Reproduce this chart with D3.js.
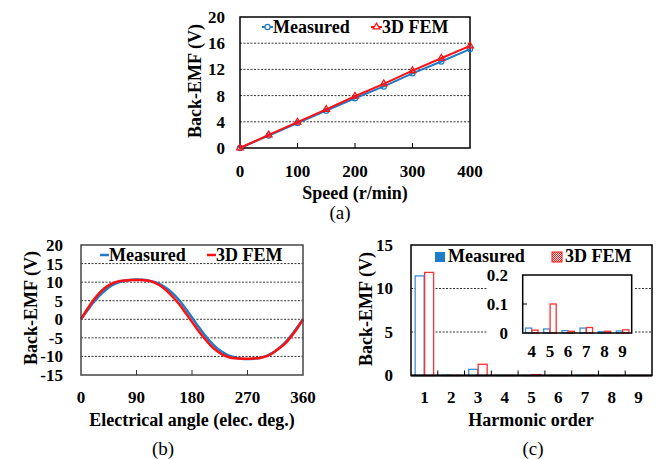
<!DOCTYPE html>
<html>
<head>
<meta charset="utf-8">
<script src="https://cdn.jsdelivr.net/npm/d3@7"></script>
<style>
  body { margin: 0; background: #fff; }
  svg text { font-family: "Liberation Serif", "Times New Roman", serif; font-weight: bold; fill: #000; }
</style>
</head>
<body>
<div id="draw-area"></div>
<script>
// (a) back-EMF vs speed
const speeds = [0, 50, 100, 150, 200, 250, 300, 350, 400];
const speedMeasured = [0, 1.9, 3.8, 5.7, 7.6, 9.4, 11.4, 13.2, 15.1];
const speedFem = [0, 2.0, 3.95, 5.9, 7.9, 9.8, 11.8, 13.7, 15.6];
const speedTicks = [0, 100, 200, 300, 400];
const emfTicksA = [0, 4, 8, 12, 16, 20];

// (b) waveform
const angles = [0, 10, 20, 30, 40, 50, 60, 70, 80, 90, 100, 110, 120, 130, 140, 150, 160, 170, 180,
  190, 200, 210, 220, 230, 240, 250, 260, 270, 280, 290, 300, 310, 320, 330, 340, 350, 360];
const waveMeasured = [0, 2.3, 4.5, 6.4, 7.9, 9.1, 9.9, 10.4, 10.6, 10.7, 10.65, 10.4, 10.0, 9.3, 8.2, 6.8, 5.0, 2.8, 0.5,
  -1.9, -4.1, -6.1, -7.7, -8.9, -9.8, -10.3, -10.6, -10.7, -10.6, -10.4, -9.9, -9.1, -7.9, -6.4, -4.5, -2.3, 0];
const waveFem = [0, 2.7, 5.1, 7.1, 8.6, 9.6, 10.2, 10.45, 10.55, 10.6, 10.55, 10.35, 9.8, 8.9, 7.5, 5.8, 3.9, 1.6, -0.7,
  -3.0, -5.1, -7.0, -8.5, -9.6, -10.2, -10.5, -10.6, -10.65, -10.55, -10.4, -10.0, -9.2, -8.0, -6.7, -4.8, -2.6, 0];
const angleTicks = [0, 90, 180, 270, 360];
const emfTicksB = [-15, -10, -5, 0, 5, 10, 15, 20];

// (c) harmonics
const harmonics = [1, 2, 3, 4, 5, 6, 7, 8, 9];
const harmMeasured = [11.45, 0.03, 0.71, 0.017, 0.014, 0.008, 0.017, 0.005, 0.007];
const harmFem = [11.85, 0.005, 1.29, 0.01, 0.1, 0.006, 0.019, 0.006, 0.011];
const emfTicksC = [0, 5, 10, 15];
const insetHarmonics = [4, 5, 6, 7, 8, 9];
const insetTicks = [0, 0.1, 0.2];

const blue = '#1f7bc8', red = '#ff1010';
const barBlue = '#3d8fd6', barRed = '#ff3030';

const svg = d3.select('#draw-area').append('svg').attr('width', 662).attr('height', 459);

const defs = svg.append('defs');
const pat = defs.append('pattern').attr('id', 'checker').attr('width', 2).attr('height', 2)
  .attr('patternUnits', 'userSpaceOnUse');
pat.append('rect').attr('width', 2).attr('height', 2).attr('fill', '#fff');
pat.append('rect').attr('width', 1).attr('height', 1).attr('fill', red);
pat.append('rect').attr('x', 1).attr('y', 1).attr('width', 1).attr('height', 1).attr('fill', red);

function grid(g, y, vals, x0, x1) {
  g.selectAll(null).data(vals).enter().append('line')
    .attr('x1', x0).attr('x2', x1).attr('y1', d => y(d)).attr('y2', d => y(d))
    .attr('stroke', '#333').attr('stroke-width', 1).attr('stroke-dasharray', '2,1.5');
}
function frame(g, x0, y0, x1, y1, color, w) {
  g.append('rect').attr('x', x0).attr('y', y0).attr('width', x1 - x0).attr('height', y1 - y0)
    .attr('fill', 'none').attr('stroke', color).attr('stroke-width', w);
}
function yLabels(g, y, vals, xr, fmt) {
  g.selectAll(null).data(vals).enter().append('text')
    .attr('x', xr).attr('y', d => y(d)).attr('dy', '0.35em').attr('text-anchor', 'end')
    .attr('font-size', 17).text(fmt || (d => d));
}
function xLabels(g, x, vals, yb) {
  g.selectAll(null).data(vals).enter().append('text')
    .attr('x', d => x(d)).attr('y', yb).attr('text-anchor', 'middle')
    .attr('font-size', 17).text(d => d);
}
function yTitle(g, xb, yc) {
  g.append('text').attr('transform', `translate(${xb},${yc}) rotate(-90)`)
    .attr('text-anchor', 'middle').attr('font-size', 18).text('Back-EMF (V)');
}
function caption(txt, xc, yb) {
  svg.append('text').attr('x', xc).attr('y', yb).attr('text-anchor', 'middle')
    .attr('font-size', 19).style('font-weight', 'normal').text(txt);
}

// ---------- (a) ----------
(function () {
  const g = svg.append('g');
  const x = d3.scaleLinear().domain([0, 400]).range([240, 470]);
  const y = d3.scaleLinear().domain([0, 20]).range([148, 17]);
  grid(g, y, [4, 8, 12, 16], 240, 470);
  g.selectAll(null).data([100, 200, 300]).enter().append('line')
    .attr('x1', d => x(d)).attr('x2', d => x(d)).attr('y1', 148).attr('y2', 143)
    .attr('stroke', '#000').attr('stroke-width', 1);
  frame(g, 240, 17, 470, 148, '#000', 1.5);

  const line = d3.line().x((d, i) => x(speeds[i])).y(d => y(d));
  g.append('path').attr('d', line(speedMeasured)).attr('fill', 'none').attr('stroke', blue).attr('stroke-width', 2);
  g.selectAll(null).data(speedMeasured).enter().append('circle')
    .attr('cx', (d, i) => x(speeds[i])).attr('cy', d => y(d)).attr('r', 2.6)
    .attr('fill', 'none').attr('stroke', blue).attr('stroke-width', 1.2);
  g.append('path').attr('d', line(speedFem)).attr('fill', 'none').attr('stroke', red).attr('stroke-width', 2);
  const tri = d3.symbol().type(d3.symbolTriangle).size(20);
  g.selectAll(null).data(speedFem).enter().append('path')
    .attr('d', tri).attr('transform', (d, i) => `translate(${x(speeds[i])},${y(d)})`)
    .attr('fill', 'none').attr('stroke', red).attr('stroke-width', 1.2);

  yLabels(g, y, emfTicksA, 225);
  xLabels(g, x, speedTicks, 177);
  g.append('text').attr('x', 355).attr('y', 199).attr('text-anchor', 'middle').attr('font-size', 18).text('Speed (r/min)');
  yTitle(g, 201, 81);

  // legend
  g.append('line').attr('x1', 262).attr('x2', 273).attr('y1', 27).attr('y2', 27).attr('stroke', blue).attr('stroke-width', 2);
  g.append('circle').attr('cx', 267.5).attr('cy', 27).attr('r', 2.6).attr('fill', '#fff').attr('stroke', blue).attr('stroke-width', 1.2);
  g.append('text').attr('x', 273).attr('y', 33).attr('font-size', 18).text('Measured');
  g.append('line').attr('x1', 371).attr('x2', 382).attr('y1', 27).attr('y2', 27).attr('stroke', red).attr('stroke-width', 2);
  g.append('path').attr('d', tri).attr('transform', 'translate(376.5,27)').attr('fill', '#fff').attr('stroke', red).attr('stroke-width', 1.2);
  g.append('text').attr('x', 382).attr('y', 33).attr('font-size', 18).text('3D FEM');
})();
caption('(a)', 340, 219);

// ---------- (b) ----------
(function () {
  const g = svg.append('g');
  const x = d3.scaleLinear().domain([0, 360]).range([81, 303]);
  const y = d3.scaleLinear().domain([-15, 20]).range([375, 245]);
  grid(g, y, [-10, -5, 0, 5, 10, 15], 81, 303);
  g.selectAll(null).data([90, 180, 270]).enter().append('line')
    .attr('x1', d => x(d)).attr('x2', d => x(d)).attr('y1', 375).attr('y2', 370)
    .attr('stroke', '#333').attr('stroke-width', 1);

  const line = d3.line().x((d, i) => x(angles[i])).y(d => y(d)).curve(d3.curveCatmullRom);
  g.append('path').attr('d', line(waveMeasured)).attr('fill', 'none').attr('stroke', blue).attr('stroke-width', 2.5);
  g.append('path').attr('d', line(waveFem)).attr('fill', 'none').attr('stroke', red).attr('stroke-width', 2.5);
  frame(g, 81, 245, 303, 375, '#444', 1.5);

  yLabels(g, y, emfTicksB, 63);
  xLabels(g, x, angleTicks, 403);
  g.append('text').attr('x', 192).attr('y', 426).attr('text-anchor', 'middle').attr('font-size', 18)
    .text('Electrical angle (elec. deg.)');
  yTitle(g, 37, 308);

  g.append('line').attr('x1', 100).attr('x2', 109).attr('y1', 255).attr('y2', 255).attr('stroke', blue).attr('stroke-width', 2.5);
  g.append('text').attr('x', 109).attr('y', 261).attr('font-size', 18).text('Measured');
  g.append('line').attr('x1', 207).attr('x2', 216).attr('y1', 255).attr('y2', 255).attr('stroke', red).attr('stroke-width', 2.5);
  g.append('text').attr('x', 216).attr('y', 261).attr('font-size', 18).text('3D FEM');
})();
caption('(b)', 163, 455);

// ---------- (c) ----------
(function () {
  const g = svg.append('g');
  const x = d3.scaleBand().domain(harmonics).range([411, 652]);
  const y = d3.scaleLinear().domain([0, 15]).range([375.5, 245]);
  const sub = d3.scaleBand().domain(['m', 'f']).range([0, x.bandwidth()]).paddingInner(0.05).paddingOuter(0.44);
  grid(g, y, [5, 10], 411, 652);

  const bars = g.selectAll('g.harm').data(harmonics).enter().append('g').attr('class', 'harm')
    .attr('transform', d => `translate(${x(d)},0)`);
  bars.append('rect').attr('x', sub('m')).attr('width', sub.bandwidth())
    .attr('y', (d, i) => y(harmMeasured[i])).attr('height', (d, i) => y(0) - y(harmMeasured[i]))
    .attr('fill', '#fff').attr('stroke', barBlue).attr('stroke-width', 1.3);
  bars.append('rect').attr('x', sub('f')).attr('width', sub.bandwidth())
    .attr('y', (d, i) => y(harmFem[i])).attr('height', (d, i) => y(0) - y(harmFem[i]))
    .attr('fill', '#fff').attr('stroke', barRed).attr('stroke-width', 1.3);

  g.selectAll(null).data(harmonics.slice(1)).enter().append('line')
    .attr('x1', d => x(d)).attr('x2', d => x(d)).attr('y1', 375.5).attr('y2', 370.5)
    .attr('stroke', '#000').attr('stroke-width', 1);
  frame(g, 411, 245, 652, 375.5, '#000', 1.5);
  g.append('line').attr('x1', 411).attr('x2', 652).attr('y1', 375.5).attr('y2', 375.5).attr('stroke', '#000').attr('stroke-width', 2);

  yLabels(g, y, emfTicksC, 393);
  xLabels(g, d => x(d) + x.bandwidth() / 2, harmonics, 403);
  g.append('text').attr('x', 531).attr('y', 426).attr('text-anchor', 'middle').attr('font-size', 18).text('Harmonic order');
  yTitle(g, 372, 309);

  // legend
  g.append('rect').attr('x', 435).attr('y', 252).attr('width', 10).attr('height', 10).attr('fill', blue);
  g.append('text').attr('x', 448).attr('y', 262).attr('font-size', 18).text('Measured');
  g.append('rect').attr('x', 552).attr('y', 252).attr('width', 10).attr('height', 10)
    .attr('fill', 'url(#checker)').attr('stroke', red).attr('stroke-width', 1);
  g.append('text').attr('x', 565).attr('y', 262).attr('font-size', 18).text('3D FEM');

  // inset
  const ig = g.append('g');
  ig.append('rect').attr('x', 487).attr('y', 266).attr('width', 148).attr('height', 96).attr('fill', '#fff');
  const xi = d3.scaleBand().domain(insetHarmonics).range([522.7, 631.7]);
  const yi = d3.scaleLinear().domain([0, 0.2]).range([333, 275]);
  const subi = d3.scaleBand().domain(['m', 'f']).range([0, xi.bandwidth()]).paddingInner(0.05).paddingOuter(0.44);
  const ib = ig.selectAll('g.ins').data(insetHarmonics).enter().append('g').attr('class', 'ins')
    .attr('transform', d => `translate(${xi(d)},0)`);
  ib.append('rect').attr('x', subi('m')).attr('width', subi.bandwidth())
    .attr('y', d => yi(harmMeasured[harmonics.indexOf(d)]))
    .attr('height', d => yi(0) - yi(harmMeasured[harmonics.indexOf(d)]))
    .attr('fill', '#fff').attr('stroke', barBlue).attr('stroke-width', 1.3);
  ib.append('rect').attr('x', subi('f')).attr('width', subi.bandwidth())
    .attr('y', d => yi(harmFem[harmonics.indexOf(d)]))
    .attr('height', d => yi(0) - yi(harmFem[harmonics.indexOf(d)]))
    .attr('fill', '#fff').attr('stroke', barRed).attr('stroke-width', 1.3);
  ig.append('line').attr('x1', 522.7).attr('x2', 527).attr('y1', yi(0.1)).attr('y2', yi(0.1)).attr('stroke', '#000');
  frame(ig, 522.7, 275, 631.7, 333, '#000', 1.5);
  yLabels(ig, yi, insetTicks, 508);
  xLabels(ig, d => xi(d) + xi.bandwidth() / 2, insetHarmonics, 357);
})();
caption('(c)', 533, 455);
</script>
</body>
</html>
